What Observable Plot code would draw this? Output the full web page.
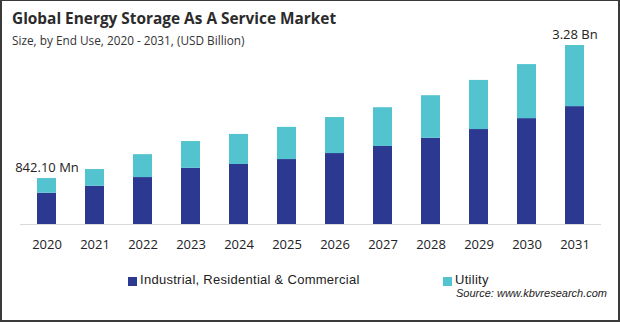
<!DOCTYPE html>
<html>
<head>
<meta charset="utf-8">
<script src="https://cdn.jsdelivr.net/npm/d3@7"></script>
<script src="https://cdn.jsdelivr.net/npm/@observablehq/plot@0.6"></script>
<style>
  html, body { margin: 0; padding: 0; background: #fff; }
  body { position: relative; width: 620px; height: 322px; overflow: hidden; font-family: "Open Sans", sans-serif; color: #222; }
  .abs { position: absolute; white-space: nowrap; }
  #frame { position: absolute; left: 0; top: 0; width: 620px; height: 322px; box-sizing: border-box; border-style: solid; border-color: #3a3a3a; border-width: 1px 2px 2px 2px; pointer-events: none; }
  #title { left: 12px; top: 11px; font-size: 15.4px; line-height: 16px; font-weight: 700; color: #2b2b2b; }
  #subtitle { left: 12px; top: 34px; font-size: 11.8px; line-height: 12px; color: #333; }
  #chart { position: absolute; left: 0; top: 0; }
  .sw { position: absolute; width: 9px; height: 9px; }
  .lg { font-family: "Liberation Sans", sans-serif; font-size: 13px; line-height: 13px; letter-spacing: 0.28px; color: #222; }
  #source { right: 13px; top: 287.7px; font-family: "Liberation Sans", sans-serif; font-size: 11px; line-height: 11px; font-style: italic; color: #222; }
</style>
</head>
<body>
<div id="title" class="abs">Global Energy Storage As A Service Market</div>
<div id="subtitle" class="abs">Size, by End Use, 2020 - 2031, (USD Billion)</div>
<div id="chart"></div>
<div class="sw" style="left:128px; top:276.5px; background:#2b3990;"></div>
<div class="abs lg" style="left:140px; top:273px;">Industrial, Residential &amp; Commercial</div>
<div class="sw" style="left:443px; top:276.5px; background:#52c3cf;"></div>
<div class="abs lg" style="left:455px; top:273px;">Utility</div>
<div id="source" class="abs">Source: www.kbvresearch.com</div>
<div id="frame"></div>
<script>
const years = [2020, 2021, 2022, 2023, 2024, 2025, 2026, 2027, 2028, 2029, 2030, 2031];
const industrial = [0.573, 0.70, 0.86, 1.03, 1.10, 1.19, 1.30, 1.43, 1.58, 1.74, 1.94, 2.16];
const utility = [0.269, 0.307, 0.42, 0.49, 0.55, 0.59, 0.66, 0.71, 0.78, 0.90, 0.99, 1.12];
const seriesNames = ["Industrial, Residential & Commercial", "Utility"];
const seriesColors = ["#2b3990", "#52c3cf"];
const labelYears = [2020, 2031];
const labelTexts = ["842.10 Mn", "3.28 Bn"];

const rows = [];
years.forEach((yr, i) => {
  rows.push({year: String(yr), series: seriesNames[0], value: industrial[i]});
  rows.push({year: String(yr), series: seriesNames[1], value: utility[i]});
});
const labels = labelYears.map((yr, k) => {
  const i = years.indexOf(yr);
  return {year: String(yr), total: industrial[i] + utility[i], text: labelTexts[k]};
});

const chart = Plot.plot({
  width: 620,
  height: 260,
  marginLeft: 20,
  marginRight: 19,
  marginTop: 45,
  marginBottom: 36,
  style: {fontFamily: "Open Sans, sans-serif", fontSize: "13px", color: "#222", background: "transparent"},
  x: {domain: years.map(String), paddingInner: 0.6, paddingOuter: 0.3, label: null, tickSize: 0, tickPadding: 15},
  y: {domain: [0, 3.28], axis: null},
  color: {domain: seriesNames, range: seriesColors},
  marks: [
    Plot.barY(rows, {x: "year", y: "value", fill: "series"}),
    Plot.ruleY([0], {stroke: "#d9d9d9", strokeWidth: 1}),
    Plot.text(labels, {x: "year", y: "total", text: "text", dy: -11, fontSize: 13, fill: "#222"})
  ]
});
document.getElementById("chart").appendChild(chart);
</script>
</body>
</html>
